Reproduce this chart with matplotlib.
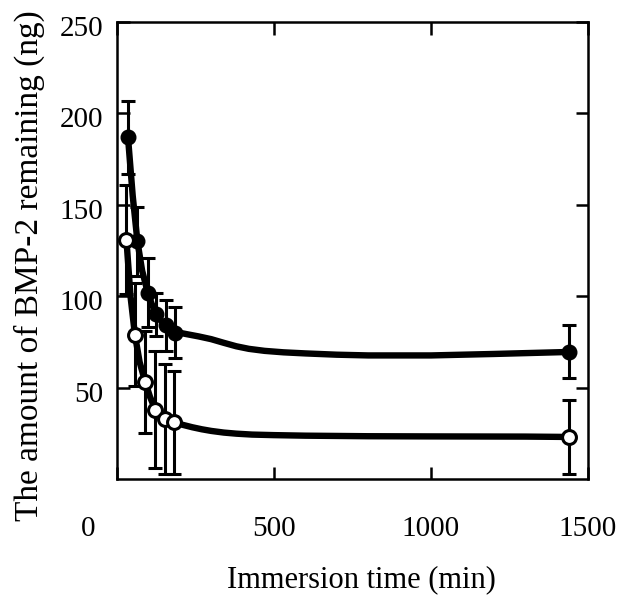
import matplotlib
matplotlib.use("Agg")
import matplotlib.pyplot as plt
import matplotlib.transforms as mtrans

plt.rcParams['font.family'] = ['Liberation Serif', 'DejaVu Serif']

filled_x = [35, 65, 98, 125, 155, 185, 1440]
filled_y = [187, 130, 102, 90, 84, 80, 69.5]
filled_err = [20, 19, 19, 12, 14, 14, 14.5]

open_x = [30, 57, 90, 122, 152, 183, 1440]
open_y = [131, 79, 53, 38, 33, 31, 23]
open_err = [30, 28, 28, 32, 30, 28, 20]

# fitted curves as drawn in the figure
fit_filled_x = [35, 50, 65, 80, 98, 110, 125, 140, 155, 170, 185, 220, 260, 300, 340, 380, 420,
                470, 530, 600, 700, 800, 1000, 1200, 1440]
fit_filled_y = [187, 155, 130, 114, 102, 96, 90, 86.5, 84, 82, 80.5, 79.3, 78, 76.5, 74.5, 72.6, 71.2,
                70.1, 69.3, 68.7, 68, 67.6, 67.6, 68.4, 69.5]
fit_open_x = [30, 43, 57, 72, 90, 105, 122, 137, 152, 167, 183, 210, 240, 270, 300, 340, 380, 430,
              500, 600, 800, 1000, 1300, 1440]
fit_open_y = [131, 100, 79, 64, 53, 45, 38, 35, 33, 31.8, 31, 29.6, 28.3, 27.2, 26.3, 25.4, 24.8, 24.3,
              24, 23.7, 23.4, 23.3, 23.2, 23]

xticks = [0, 500, 1000, 1500]
yticks = [50, 100, 150, 200, 250]

fig = plt.figure(figsize=(6.2, 6.0), dpi=100)
ax = fig.add_axes([117/620, 1-479/600, (588-117)/620, (479-22)/600])

ax.plot(fit_filled_x, fit_filled_y, color='black', lw=4.6, solid_capstyle='round',
        solid_joinstyle='round', zorder=2)
ax.plot(fit_open_x, fit_open_y, color='black', lw=4.6, solid_capstyle='round',
        solid_joinstyle='round', zorder=2)

ax.errorbar(filled_x, filled_y, yerr=filled_err, fmt='o', color='black', ms=10.5,
            mfc='black', mec='black', elinewidth=2.2, capsize=5, capthick=2.2, zorder=3)
ax.errorbar(open_x, open_y, yerr=open_err, fmt='o', color='black', ms=10,
            mfc='white', mec='black', mew=2.2, elinewidth=2.2, capsize=5, capthick=2.2, zorder=4)

ax.set_xlim(0, 1500)
ax.set_ylim(0, 250)
ax.set_xticks(xticks)
ax.set_yticks(yticks)
ax.set_xticklabels([str(v) for v in xticks], fontsize=21)
ax.set_yticklabels([str(v) for v in yticks], fontsize=21)
ax.tick_params(direction='in', top=True, right=True, length=9, width=1.8)
ax.tick_params(axis='x', pad=27)
ax.tick_params(axis='y', pad=10)
for s in ax.spines.values():
    s.set_linewidth(1.8)

# the "0" label sits left of the axis in the original
lab0 = ax.get_xticklabels()[0]
lab0.set_transform(lab0.get_transform() + mtrans.ScaledTranslation(-29/100, 0, fig.dpi_scale_trans))
for lab in ax.get_yticklabels():
    lab.set_transform(lab.get_transform() + mtrans.ScaledTranslation(0, -4/100, fig.dpi_scale_trans))

fig.text(361/620, 1-580/600, 'Immersion time (min)', fontsize=22, ha='center', va='center')
fig.text(29/620, 1-266/600, 'The amount of BMP-2 remaining (ng)', fontsize=24,
         rotation=90, ha='center', va='center')

fig.savefig('out.png', dpi=100)
